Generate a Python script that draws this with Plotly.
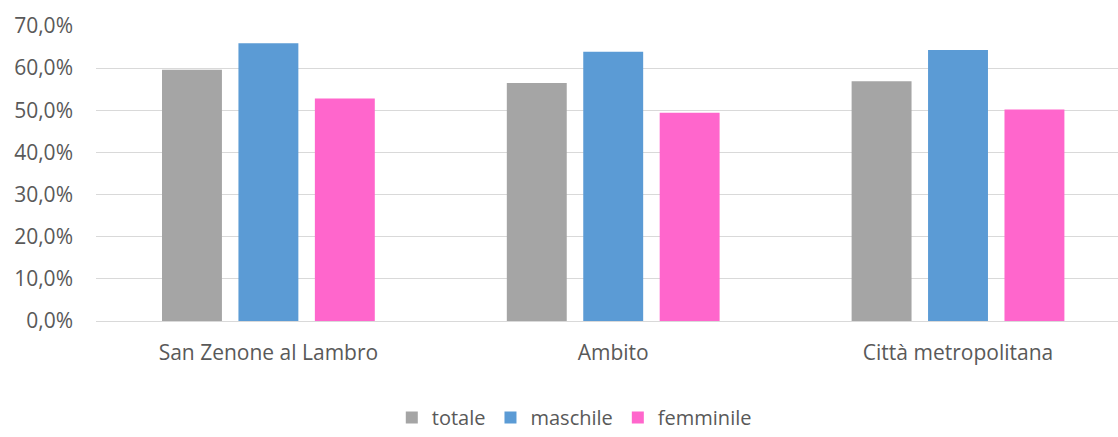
import plotly.graph_objects as go

categories = ["San Zenone al Lambro", "Ambito", "Città metropolitana"]
totale = [0.596, 0.565, 0.569]
maschile = [0.659, 0.639, 0.643]
femminile = [0.528, 0.494, 0.502]
y_ticks = [0, 0.1, 0.2, 0.3, 0.4, 0.5, 0.6, 0.7]

series = [
    ("totale", totale, "#a5a5a5"),
    ("maschile", maschile, "#5b9bd5"),
    ("femminile", femminile, "#ff66cc"),
]

fig = go.Figure()
for name, vals, col in series:
    fig.add_trace(go.Bar(
        x=categories, y=vals, name=name,
        marker=dict(color=col, line=dict(width=0)),
    ))

font_color = "#595959"
fig.update_layout(
    width=1118, height=437,
    margin=dict(l=95.5, r=0, t=25.7, b=116, autoexpand=False),
    paper_bgcolor="white", plot_bgcolor="white",
    separators=",.",
    font=dict(family="Open Sans", size=21, color=font_color),
    barmode="group",
    bargap=0.335,
    bargroupgap=0.216,
    showlegend=True,
    legend=dict(
        orientation="h", x=0.468, xanchor="center",
        yref="container", y=0.0, yanchor="bottom",
        font=dict(size=20, color=font_color),
        itemwidth=30, traceorder="normal",
    ),
)
fig.update_xaxes(
    range=[-0.5, 2.464],
    showgrid=False, showline=False, zeroline=False,
    ticks="", ticklabelstandoff=17,
)
fig.update_yaxes(
    range=[0, 0.7], tickvals=y_ticks, tickformat=".1%",
    showgrid=True, gridcolor="#d9d9d9", gridwidth=1.3,
    zeroline=True, zerolinecolor="#d9d9d9", zerolinewidth=1.3,
    showline=False, ticks="", ticklabelstandoff=22,
)

fig.write_html("out.html")
